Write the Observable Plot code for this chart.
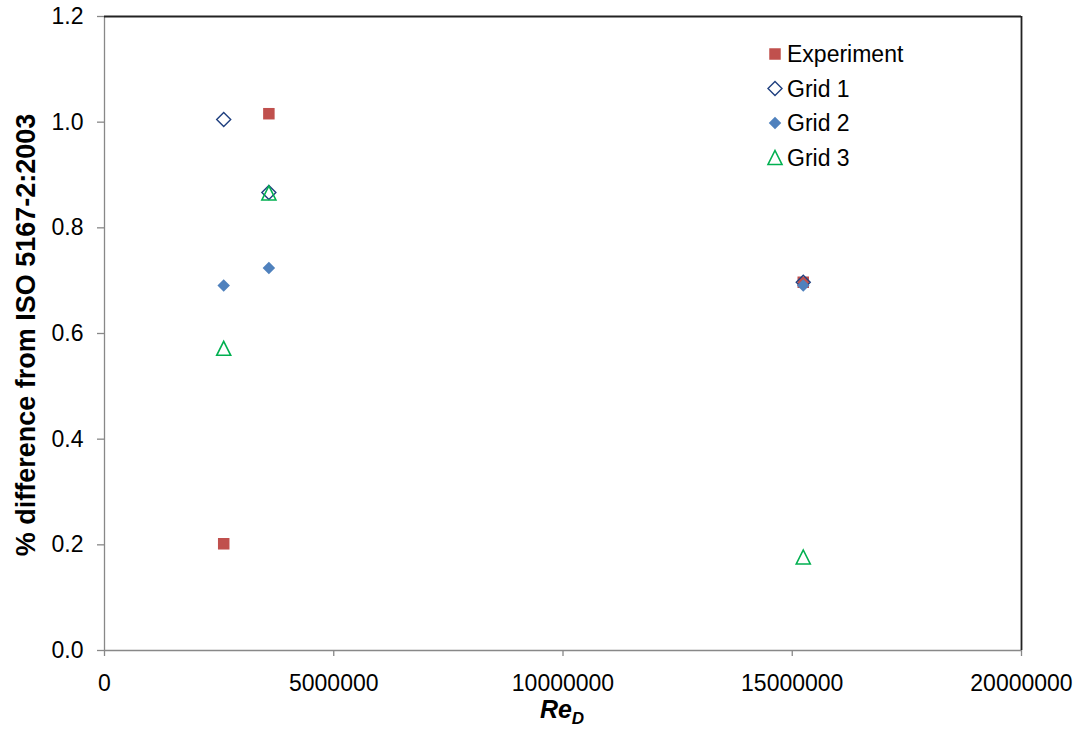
<!DOCTYPE html>
<html><head><meta charset="utf-8">
<script src="https://cdn.jsdelivr.net/npm/d3@7"></script>
<script src="https://cdn.jsdelivr.net/npm/@observablehq/plot@0.6"></script>
<style>
body{margin:0;background:#fff;}
#chart{position:relative;width:1082px;height:729px;}
</style></head><body><div id="chart"></div>
<script>
const reynolds = [2600000, 3585000, 15240000];
const experiment = [0.202, 1.016, 0.697];
const grid1 = [1.005, 0.867, 0.697];
const grid2 = [0.691, 0.724, 0.691];
const grid3 = [0.572, 0.866, 0.177];
const seriesNames = ["Experiment", "Grid 1", "Grid 2", "Grid 3"];
const xTicks = [0, 5000000, 10000000, 15000000, 20000000];
const yTicks = [0, 0.2, 0.4, 0.6, 0.8, 1.0, 1.2];
const xDomain = [0, 20000000];
const yDomain = [0, 1.2];

// Excel-like marker shapes (width = sqrt(size))
const sqSym = {draw(c, size){const s = Math.sqrt(size)/2; c.moveTo(-s,-s); c.lineTo(s,-s); c.lineTo(s,s); c.lineTo(-s,s); c.closePath();}};
const diaSym = {draw(c, size){const s = Math.sqrt(size)/2; c.moveTo(0,-s); c.lineTo(s,0); c.lineTo(0,s); c.lineTo(-s,0); c.closePath();}};
const triSym = {draw(c, size){const s = Math.sqrt(size)/2; c.moveTo(0,-s); c.lineTo(s,s); c.lineTo(-s,s); c.closePath();}};
const rFor = w => w / Math.sqrt(Math.PI);

const styles = [
  {symbol: sqSym, w: 11.5, fill: "#C0504D", stroke: "none", sw: 0},
  {symbol: diaSym, w: 14, fill: "none", stroke: "#1F3F7F", sw: 1.4},
  {symbol: diaSym, w: 12.5, fill: "#4F81BD", stroke: "none", sw: 0},
  {symbol: triSym, w: 14, fill: "none", stroke: "#00B050", sw: 1.6}
];
const seriesValues = [experiment, grid1, grid2, grid3];
const rows = vals => reynolds.map((x, i) => ({x, y: vals[i]}));

const plot = Plot.plot({
  width: 1082, height: 729,
  marginLeft: 104, marginRight: 61, marginTop: 16, marginBottom: 79,
  style: {fontFamily: "'Liberation Sans', Arial, sans-serif", fontSize: "23px", color: "#000", background: "#fff"},
  x: {domain: xDomain},
  y: {domain: yDomain},
  marks: [
    Plot.axisX({ticks: xTicks, tickFormat: d => d.toFixed(0), tickSize: 6, tickPadding: 18, stroke: "#888", strokeWidth: 1.3, label: null}),
    Plot.axisY({ticks: yTicks, tickFormat: d3.format(".1f"), tickSize: 7, tickPadding: 14, stroke: "#888", strokeWidth: 1.3, label: null}),
    Plot.ruleY([yDomain[0]], {stroke: "#888", strokeWidth: 1.3}),
    Plot.ruleX([xDomain[0]], {stroke: "#888", strokeWidth: 1.3}),
    Plot.ruleY([yDomain[1]], {stroke: "#222", strokeWidth: 1.8}),
    Plot.ruleX([xDomain[1]], {stroke: "#222", strokeWidth: 1.8}),
    ...seriesValues.map((vals, k) => Plot.dot(rows(vals), {
      x: "x", y: "y", symbol: styles[k].symbol, r: rFor(styles[k].w),
      fill: styles[k].fill, stroke: styles[k].stroke, strokeWidth: styles[k].sw
    }))
  ]
});
document.getElementById("chart").appendChild(plot);

const svg = d3.select(plot);
// y axis title
svg.append("text")
  .attr("transform", "translate(35,335) rotate(-90)")
  .attr("text-anchor", "middle")
  .attr("font-weight", "bold")
  .attr("font-size", "27px")
  .attr("fill", "#000")
  .text("% difference from ISO 5167-2:2003");
// x axis title
const xt = svg.append("text")
  .attr("x", 562).attr("y", 718)
  .attr("text-anchor", "middle")
  .attr("font-weight", "bold")
  .attr("font-style", "italic")
  .attr("font-size", "25px")
  .attr("fill", "#000");
xt.append("tspan").text("Re");
xt.append("tspan").attr("font-size", "17px").attr("dy", 6).text("D");

// legend
const lg = svg.append("g").attr("transform", "translate(775,54)");
seriesNames.forEach((name, k) => {
  const g = lg.append("g").attr("transform", `translate(0,${k * 34.5})`);
  g.append("path")
    .attr("d", d3.symbol().type(styles[k].symbol).size(styles[k].w * styles[k].w)())
    .attr("fill", styles[k].fill).attr("stroke", styles[k].stroke).attr("stroke-width", styles[k].sw);
  g.append("text").attr("x", 12).attr("y", 8).attr("text-anchor", "start")
    .attr("font-size", "23px").attr("fill", "#000").text(name);
});
</script></body></html>
